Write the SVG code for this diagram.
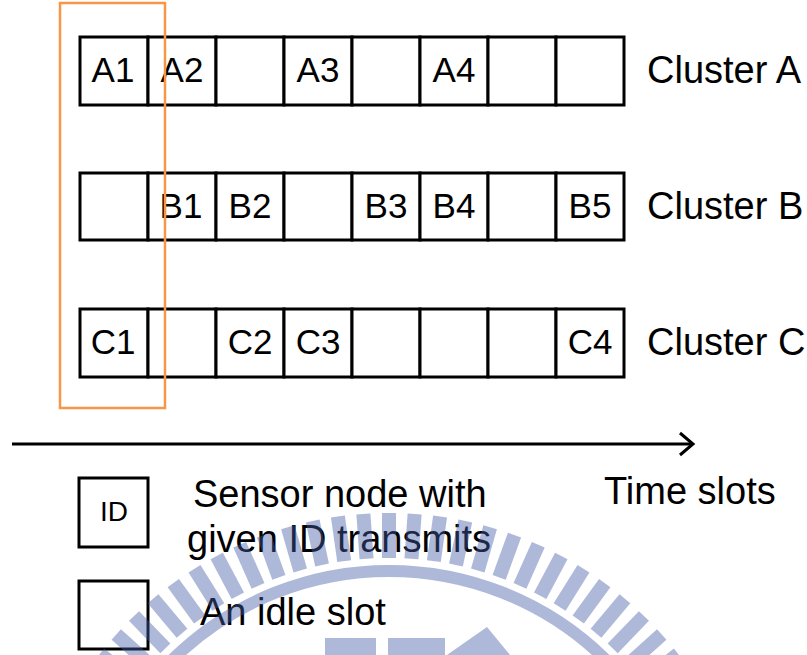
<svg xmlns="http://www.w3.org/2000/svg" xmlns:xlink="http://www.w3.org/1999/xlink" width="807" height="655" viewBox="0 0 807 655">
<defs>
<style>
.cell{fill:#fff;stroke:#000;stroke-width:3}
.ct{font-family:"Liberation Sans",Arial,sans-serif;font-size:35px;text-anchor:middle;fill:#000}
.lb{font-family:"Liberation Sans",Arial,sans-serif;font-size:38px;fill:#000}
.wm{fill:#455DA6;opacity:0.43}
</style>
<rect id="st" x="-7" y="-367" width="14" height="45"/>
</defs>
<rect width="807" height="655" fill="#fff"/>

<g id="clusterA">
<rect class="cell" x="80" y="37" width="68" height="68"/>
<rect class="cell" x="148" y="37" width="68" height="68"/>
<rect class="cell" x="216" y="37" width="68" height="68"/>
<rect class="cell" x="284" y="37" width="68" height="68"/>
<rect class="cell" x="352" y="37" width="68" height="68"/>
<rect class="cell" x="420" y="37" width="68" height="68"/>
<rect class="cell" x="488" y="37" width="68" height="68"/>
<rect class="cell" x="556" y="37" width="68" height="68"/>
<text class="ct" x="113" y="82">A1</text>
<text class="ct" x="182" y="82">A2</text>
<text class="ct" x="318" y="82">A3</text>
<text class="ct" x="454" y="82">A4</text>
<text class="lb" x="647" y="83">Cluster A</text>
</g>

<g id="clusterB">
<rect class="cell" x="80" y="173" width="68" height="67"/>
<rect class="cell" x="148" y="173" width="68" height="67"/>
<rect class="cell" x="216" y="173" width="68" height="67"/>
<rect class="cell" x="284" y="173" width="68" height="67"/>
<rect class="cell" x="352" y="173" width="68" height="67"/>
<rect class="cell" x="420" y="173" width="68" height="67"/>
<rect class="cell" x="488" y="173" width="68" height="67"/>
<rect class="cell" x="556" y="173" width="68" height="67"/>
<text class="ct" x="181" y="218">B1</text>
<text class="ct" x="250" y="218">B2</text>
<text class="ct" x="386" y="218">B3</text>
<text class="ct" x="454" y="218">B4</text>
<text class="ct" x="590" y="218">B5</text>
<text class="lb" x="647" y="219">Cluster B</text>
</g>

<g id="clusterC">
<rect class="cell" x="80" y="309" width="68" height="68"/>
<rect class="cell" x="148" y="309" width="68" height="68"/>
<rect class="cell" x="216" y="309" width="68" height="68"/>
<rect class="cell" x="284" y="309" width="68" height="68"/>
<rect class="cell" x="352" y="309" width="68" height="68"/>
<rect class="cell" x="420" y="309" width="68" height="68"/>
<rect class="cell" x="488" y="309" width="68" height="68"/>
<rect class="cell" x="556" y="309" width="68" height="68"/>
<text class="ct" x="113" y="354">C1</text>
<text class="ct" x="250" y="354">C2</text>
<text class="ct" x="318" y="354">C3</text>
<text class="ct" x="590" y="354">C4</text>
<text class="lb" x="647" y="355">Cluster C</text>
</g>

<g id="highlight">
<rect x="60" y="3" width="105" height="405" fill="none" stroke="#F79646" stroke-width="2.5"/>
</g>

<g id="connectors">
<line x1="12" y1="444" x2="692" y2="444" stroke="#000" stroke-width="3"/>
<polyline points="680,433 693,444 680,455" fill="none" stroke="#000" stroke-width="3"/>
<text class="lb" x="604" y="504">Time slots</text>
</g>

<g id="legendTx">
<rect class="cell" x="79" y="478" width="69" height="69"/>
<text x="114" y="521" font-family="'Liberation Sans',Arial,sans-serif" font-size="28" text-anchor="middle">ID</text>
<text class="lb" x="193" y="507">Sensor node with</text>
<text class="lb" x="187" y="552">given ID transmits</text>
</g>

<g id="legendIdle">
<rect class="cell" x="79" y="581" width="69" height="68"/>
<text class="lb" x="200" y="625">An idle slot</text>
</g>

<g id="watermark" class="wm">
<circle cx="389" cy="880" r="309" fill="none" stroke="#455DA6" stroke-width="12"/>
<g transform="translate(389,880)">
<use xlink:href="#st" transform="rotate(-52)"/>
<use xlink:href="#st" transform="rotate(-48)"/>
<use xlink:href="#st" transform="rotate(-44)"/>
<use xlink:href="#st" transform="rotate(-40)"/>
<use xlink:href="#st" transform="rotate(-36)"/>
<use xlink:href="#st" transform="rotate(-32)"/>
<use xlink:href="#st" transform="rotate(-28)"/>
<use xlink:href="#st" transform="rotate(-24)"/>
<use xlink:href="#st" transform="rotate(-20)"/>
<use xlink:href="#st" transform="rotate(-16)"/>
<use xlink:href="#st" transform="rotate(-12)"/>
<use xlink:href="#st" transform="rotate(-8)"/>
<use xlink:href="#st" transform="rotate(-4)"/>
<use xlink:href="#st" transform="rotate(0)"/>
<use xlink:href="#st" transform="rotate(4)"/>
<use xlink:href="#st" transform="rotate(8)"/>
<use xlink:href="#st" transform="rotate(12)"/>
<use xlink:href="#st" transform="rotate(16)"/>
<use xlink:href="#st" transform="rotate(20)"/>
<use xlink:href="#st" transform="rotate(24)"/>
<use xlink:href="#st" transform="rotate(28)"/>
<use xlink:href="#st" transform="rotate(32)"/>
<use xlink:href="#st" transform="rotate(36)"/>
<use xlink:href="#st" transform="rotate(40)"/>
<use xlink:href="#st" transform="rotate(44)"/>
<use xlink:href="#st" transform="rotate(48)"/>
<use xlink:href="#st" transform="rotate(52)"/>
</g>
<rect x="325" y="638" width="51" height="17"/>
<rect x="388" y="638" width="57" height="17"/>
<polygon points="447,655 487,627 510,655"/>
</g>
</svg>
